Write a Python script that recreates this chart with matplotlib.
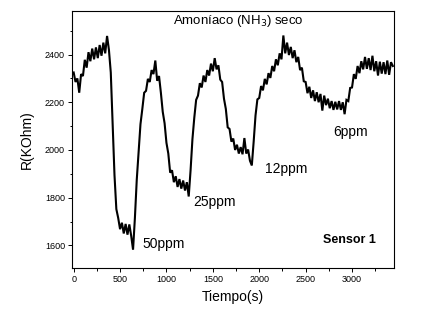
import numpy as np
import matplotlib
matplotlib.use("Agg")
import matplotlib.pyplot as plt
from matplotlib.ticker import MultipleLocator

plt.rcParams['font.family'] = ['Liberation Sans', 'DejaVu Sans']

# Time samples (s) and resistance (KOhm) (upper/lower edges of noisy band)
tiempo = np.arange(0, 3441, 20)
resistencia = [
    2325, 2285, 2300, 2240, 2318, 2310, 2378, 2345, 2410, 2372, 2425, 2380, 2430, 2385, 2440, 2395, 2450, 2405, 2478, 2420,
    2325, 2105, 1895, 1752, 1715, 1668, 1695, 1650, 1690, 1645, 1688, 1640, 1582,
    1715, 1875, 1995, 2108, 2172, 2240, 2248, 2298, 2285, 2335, 2318, 2375, 2290, 2310,
    2240, 2160, 2112, 2030, 1985, 1905, 1915, 1865, 1890, 1845, 1878, 1838, 1872, 1830, 1865, 1805,
    1915, 2045, 2135, 2210, 2228, 2280, 2262, 2312, 2285, 2335, 2312, 2362, 2330, 2385, 2338, 2355,
    2295, 2285, 2215, 2172, 2095, 2088, 2035, 2048, 2000, 2022, 1985, 2012, 1982, 2050, 1985, 2002, 1955, 1935,
    2035, 2145, 2212, 2218, 2268, 2250, 2298, 2275, 2322, 2302, 2352, 2330, 2380, 2355, 2405, 2380, 2480, 2405, 2450, 2398,
    2432, 2385, 2418, 2368, 2390, 2335,
    2345, 2288, 2285, 2238, 2265, 2218, 2250, 2205, 2242, 2200, 2235, 2165, 2228, 2188, 2215, 2175, 2205, 2168, 2202, 2170,
    2205, 2168, 2200, 2150, 2210, 2205, 2260, 2262, 2318, 2298, 2352, 2322, 2372, 2338, 2390, 2340, 2385, 2335, 2395, 2330,
    2372, 2312, 2370, 2320, 2368, 2318, 2375, 2315, 2368, 2352,
]

etiquetas = ["50ppm", "25ppm", "12ppm", "6ppm"]
etiq_t = [741, 1288, 2061, 2799]
etiq_r = [1607, 1782, 1922, 2076]

fig = plt.figure(figsize=(4.21, 3.18), dpi=100)
ax = fig.add_axes([0.171, 0.157, 0.765, 0.808])
ax.plot(tiempo, resistencia, color='black', lw=1.5, solid_joinstyle='miter')

ax.set_xlim(-18, 3453)
ax.set_ylim(1505, 2582)
ax.xaxis.set_major_locator(MultipleLocator(500))
ax.xaxis.set_minor_locator(MultipleLocator(250))
ax.yaxis.set_major_locator(MultipleLocator(200))
ax.yaxis.set_minor_locator(MultipleLocator(100))
ax.tick_params(which='major', direction='out', length=3, width=0.7, labelsize=6.5, pad=2)
ax.tick_params(which='minor', direction='out', length=1.8, width=0.7)
for s in ax.spines.values():
    s.set_linewidth(0.8)

ax.set_xlabel("Tiempo(s)", fontsize=10, labelpad=4)
ax.set_ylabel("R(KOhm)", fontsize=10, labelpad=8)

ax.text(1773, 2541, "Amoníaco (NH$_3$) seco", fontsize=9.5, ha='center', va='center')
for lab, t, r in zip(etiquetas, etiq_t, etiq_r):
    ax.text(t, r, lab, fontsize=10, ha='left', va='center')
ax.text(2683, 1624, "Sensor 1", fontsize=9, fontweight='bold', ha='left', va='center')

fig.savefig("out.png", dpi=100)
